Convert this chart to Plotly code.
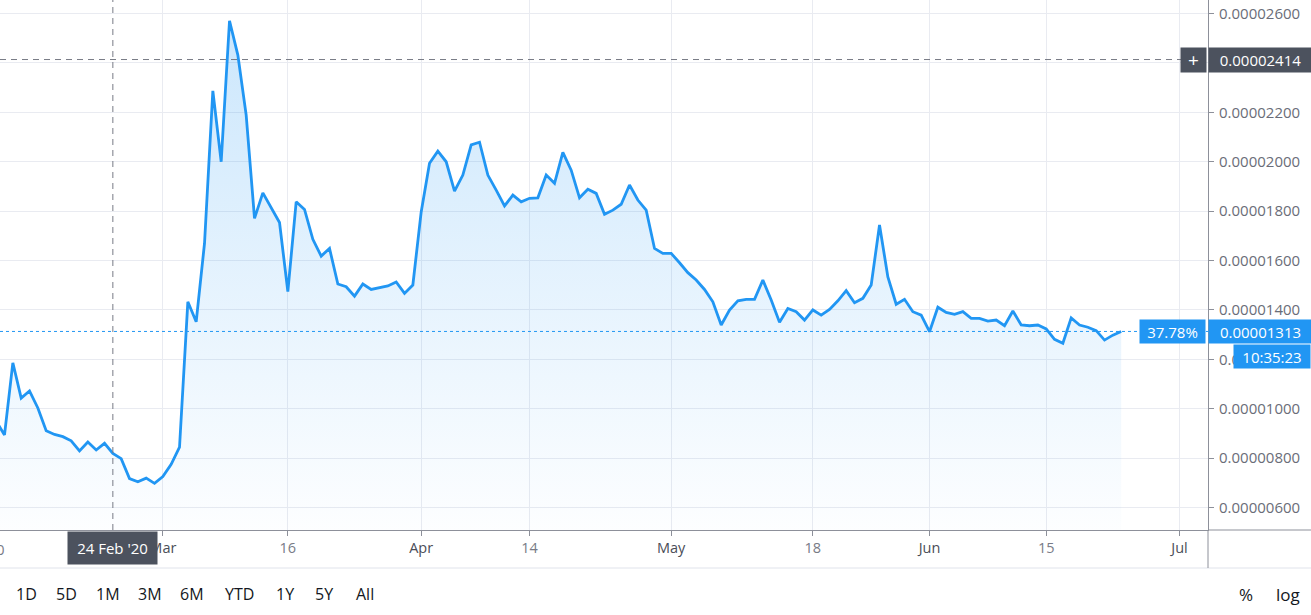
import pandas as pd
import plotly.graph_objects as go

# ---------------- data (price in units of 1e-6) ----------------
start_date = "2020-02-10"
end_date = "2020-06-24"
feb_vals = [9.50, 8.94, 11.86, 10.43, 10.72, 10.03, 9.11, 8.96, 8.87, 8.70,
            8.29, 8.65, 8.33, 8.60, 8.19, 7.98, 7.17, 7.04, 7.19, 6.98]
mar_vals = [7.25, 7.75, 8.45, 14.33, 13.52, 16.70, 22.87, 20.00, 25.71, 24.32,
            21.89, 17.71, 18.74, 18.15, 17.54, 14.74, 18.38, 18.07, 16.86, 16.18,
            16.49, 15.05, 14.94, 14.56, 15.05, 14.83, 14.89, 14.97, 15.13, 14.67, 15.01]
apr_vals = [17.97, 19.94, 20.43, 20.00, 18.81, 19.46, 20.68, 20.79, 19.46, 18.85,
            18.21, 18.65, 18.38, 18.52, 18.54, 19.46, 19.13, 20.38, 19.66, 18.54,
            18.89, 18.72, 17.87, 18.04, 18.28, 19.06, 18.45, 18.04, 16.49, 16.29]
may_vals = [16.29, 15.91, 15.51, 15.21, 14.83, 14.33, 13.39, 14.00, 14.37, 14.43,
            14.43, 15.21, 14.40, 13.50, 14.06, 13.93, 13.59, 14.00, 13.79, 14.02,
            14.37, 14.78, 14.29, 14.47, 15.01, 17.44, 15.34, 14.23, 14.43, 13.93, 13.79]
jun_vals = [13.12, 14.11, 13.90, 13.82, 13.93, 13.66, 13.66, 13.55, 13.59, 13.36,
            13.96, 13.39, 13.36, 13.39, 13.23, 12.81, 12.65, 13.68, 13.39, 13.30,
            13.16, 12.78, 12.98, 13.13]

x_tick_dates = ["2020-02-10", "2020-03-01", "2020-03-16", "2020-04-01", "2020-04-14",
                "2020-05-01", "2020-05-18", "2020-06-01", "2020-06-15", "2020-07-01"]
x_tick_labels = ["10", "Mar", "16", "Apr", "14", "May", "18", "Jun", "15", "Jul"]
month_labels = {"Mar", "Apr", "May", "Jun", "Jul"}
y_tick_vals = [0.000006, 0.000008, 0.000010, 0.000012, 0.000014, 0.000016,
               0.000018, 0.000020, 0.000022, 0.000024, 0.000026]

last_price = 0.00001313
last_price_text = "0.00001313"
change_text = "37.78%"
countdown_text = "10:35:23"
cross_date = "2020-02-24"
cross_label = "24 Feb '20"
cross_price = 0.00002414
cross_price_text = "0.00002414"
range_buttons = ["1D", "5D", "1M", "3M", "6M", "YTD", "1Y", "5Y", "All"]
range_button_px = [26, 66, 108, 150, 192, 239, 285, 324, 365]

# ---------------- build ----------------
dates = pd.date_range(start_date, end_date, freq="D")
prices = [v * 1e-6 for v in feb_vals + mar_vals + apr_vals + may_vals + jun_vals]

FONT = "Open Sans"
BLUE = "#2196f3"
DARK = "#4c525e"
GRID = "#e9ebf1"
AXIS = "#8d909a"

W, H = 1311, 615
ML, MR, MT, MB = 0, 103, 0, 85
PW = W - ML - MR
PH = H - MT - MB


def px_x(p):
    return (p - ML) / PW


def px_y(p):
    return 1 - (p - MT) / PH


fig = go.Figure()
fig.add_trace(go.Scatter(
    x=dates, y=prices, mode="lines",
    line=dict(color=BLUE, width=2.8),
    fill="tozeroy",
    fillgradient=dict(type="vertical", start=5.1e-6, stop=26.5e-6,
                      colorscale=[[0, "rgba(33,150,243,0.01)"],
                                  [1, "rgba(33,150,243,0.24)"]]),
    hoverinfo="skip", showlegend=False,
))

ticktext = [
    (f"<span style='color:#4a4d57'>{t}</span>" if t in month_labels else t)
    for t in x_tick_labels
]

fig.update_layout(
    width=W, height=H,
    margin=dict(l=ML, r=MR, t=MT, b=MB, autoexpand=False),
    paper_bgcolor="white", plot_bgcolor="white",
    font=dict(family=FONT, color="#787b86", size=14),
    xaxis=dict(
        type="date",
        range=["2020-02-10 11:00", "2020-07-04 10:00"],
        tickvals=x_tick_dates, ticktext=ticktext,
        showgrid=True, gridcolor=GRID, gridwidth=1,
        showline=True, linecolor=AXIS, linewidth=1,
        ticks="outside", ticklen=5, tickcolor=AXIS,
        tickfont=dict(size=14.5, color="#787b86"),
        zeroline=False, fixedrange=True, automargin=False,
    ),
    yaxis=dict(
        side="right",
        range=[5.09e-6, 26.55e-6],
        tickvals=y_tick_vals, tickformat=".8f",
        showgrid=True, gridcolor=GRID, gridwidth=1,
        showline=True, linecolor=AXIS, linewidth=1,
        ticks="outside", ticklen=5, tickcolor=AXIS,
        tickfont=dict(size=15, color="#6a6d78"),
        ticklabelstandoff=2,
        zeroline=False, fixedrange=True, automargin=False,
    ),
)

shapes = [
    # separator line under axis
    dict(type="line", xref="paper", yref="paper", x0=0, x1=px_x(W), y0=px_y(568), y1=px_y(568),
         line=dict(color="#e0e3eb", width=1)),
    # y-axis line extension down
    dict(type="line", xref="paper", yref="paper", x0=1, x1=1, y0=0, y1=px_y(568),
         line=dict(color=AXIS, width=1)),
    # x-axis line extension right
    dict(type="line", xref="paper", yref="paper", x0=1, x1=px_x(W), y0=0, y1=0,
         line=dict(color=AXIS, width=1)),
    # last price dotted line
    dict(type="line", xref="paper", yref="y", x0=0, x1=1, y0=last_price, y1=last_price,
         line=dict(color=BLUE, width=1, dash="dot")),
    # crosshair
    dict(type="line", xref="x", yref="paper", x0=cross_date, x1=cross_date, y0=0, y1=1,
         line=dict(color="#787b86", width=1, dash="6px,5px")),
    dict(type="line", xref="paper", yref="y", x0=0, x1=1, y0=cross_price, y1=cross_price,
         line=dict(color="#787b86", width=1, dash="6px,5px")),
]
fig.update_layout(shapes=shapes)

ann = []
# partially visible first date label at the left edge
ann.append(dict(xref="paper", yref="paper", x=px_x(-4), y=px_y(549), xanchor="center",
                yanchor="middle", text=x_tick_labels[0], showarrow=False,
                font=dict(color="#787b86", size=14.5, family=FONT)))
# crosshair date label
ann.append(dict(xref="x", yref="paper", x=cross_date, y=0, yanchor="top", xanchor="center",
                yshift=-1, text=cross_label, showarrow=False, bgcolor=DARK,
                width=89, height=32, borderpad=0, font=dict(color="white", size=15, family=FONT)))
# crosshair price label and plus button
ann.append(dict(xref="paper", yref="y", x=1, y=cross_price, xanchor="left", yanchor="middle",
                xshift=0, text=cross_price_text, showarrow=False, bgcolor=DARK,
                width=103, height=24, borderpad=0, font=dict(color="white", size=15, family=FONT)))
ann.append(dict(xref="paper", yref="y", x=1, y=cross_price, xanchor="right", yanchor="middle",
                xshift=-1, text="+", showarrow=False, bgcolor=DARK,
                width=25, height=24, borderpad=0, font=dict(color="white", size=19, family=FONT)))
# last price labels
ann.append(dict(xref="paper", yref="y", x=1, y=last_price, xanchor="left", yanchor="middle",
                text=last_price_text, showarrow=False, bgcolor=BLUE,
                width=103, height=23, borderpad=0, font=dict(color="white", size=15, family=FONT)))
ann.append(dict(xref="paper", yref="y", x=1, y=last_price, xanchor="right", yanchor="middle",
                xshift=-2, text=change_text, showarrow=False, bgcolor=BLUE,
                width=65, height=23, borderpad=0, font=dict(color="white", size=15, family=FONT)))
ann.append(dict(xref="paper", yref="y", x=px_x(W), y=last_price, xanchor="right", yanchor="top",
                yshift=-13, text=countdown_text, showarrow=False, bgcolor=BLUE,
                width=76, height=23, borderpad=0, font=dict(color="white", size=15, family=FONT)))
# bottom toolbar
for label, p in zip(range_buttons, range_button_px):
    ann.append(dict(xref="paper", yref="paper", x=px_x(p), y=px_y(594), xanchor="center",
                    yanchor="middle", text=label, showarrow=False,
                    font=dict(color="#131722", size=16, family=FONT)))
ann.append(dict(xref="paper", yref="paper", x=px_x(1246), y=px_y(594), xanchor="center",
                yanchor="middle", text="%", showarrow=False,
                font=dict(color="#131722", size=17, family=FONT)))
ann.append(dict(xref="paper", yref="paper", x=px_x(1288), y=px_y(594), xanchor="center",
                yanchor="middle", text="log", showarrow=False,
                font=dict(color="#131722", size=17, family=FONT)))
fig.update_layout(annotations=ann)

fig.write_html("out.html",
               config={"displayModeBar": False},
               post_script="document.body.style.margin='0px';document.body.style.overflow='hidden';")
